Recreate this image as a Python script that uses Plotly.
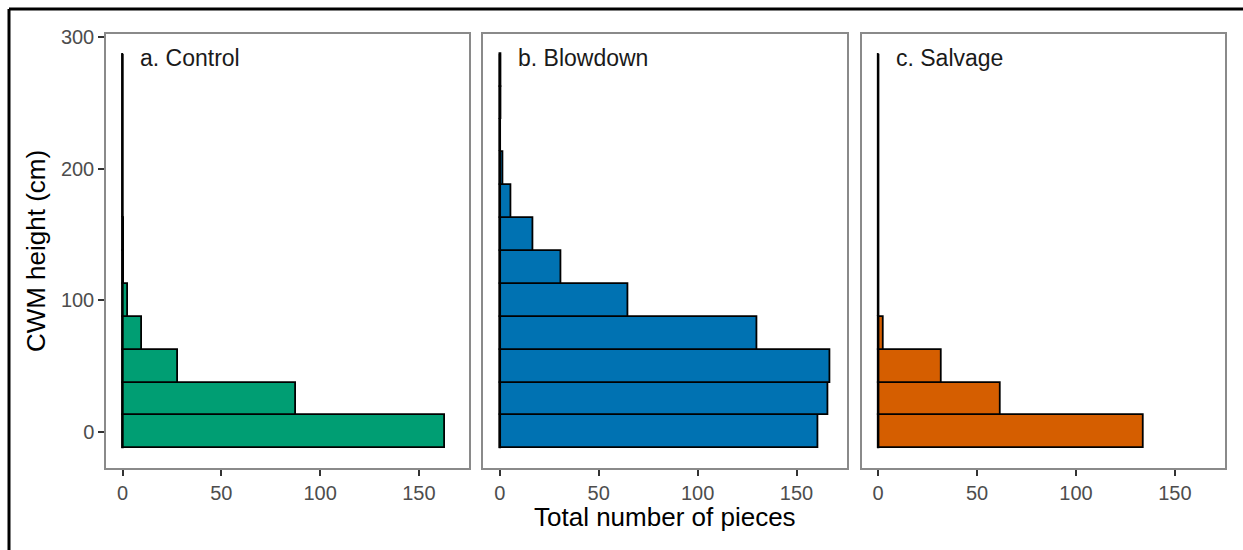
import plotly.graph_objects as go

# ---- data ----
bin_centers = [0, 25, 50, 75, 100, 125, 150, 175, 200, 225, 250, 275]
bin_width = 25
control = [163, 88, 28, 10, 3, 1, 1, 0, 0, 0, 0, 0]
blowdown = [161, 166, 167, 130, 65, 31, 17, 6, 2, 0, 1, 1]
salvage = [134, 62, 32, 3, 0, 0, 0, 0, 0, 0, 0, 0]
panel_labels = ["a. Control", "b. Blowdown", "c. Salvage"]
colors = ["#009E73", "#0072B2", "#D55E00"]
x_ticks = [0, 50, 100, 150]
y_ticks = [0, 100, 200, 300]

series = [control, blowdown, salvage]
FONT = "Liberation Sans, Arial, sans-serif"

bin_lo = bin_centers[0] - bin_width / 2
bin_hi = bin_centers[-1] + bin_width / 2
xmax = max(max(s) for s in series)
xr = [-0.05 * xmax, xmax * 1.05]
yr = [bin_lo - 0.05 * (bin_hi - bin_lo), bin_hi + 0.05 * (bin_hi - bin_lo)]

domains = [[0.0, 0.3244], [0.3372, 0.6619], [0.6753, 1.0]]

fig = go.Figure()
for i, (vals, col) in enumerate(zip(series, colors)):
    n = "" if i == 0 else str(i + 1)
    fig.add_trace(go.Bar(
        x=vals, y=bin_centers, orientation="h", width=bin_width,
        marker=dict(color=col, line=dict(color="black", width=1.8)),
        xaxis="x" + n, yaxis="y" + n, showlegend=False,
    ))
    # outline of zero-count bins (drawn as vertical line at 0)
    fig.add_trace(go.Scatter(
        x=[0, 0], y=[bin_lo, bin_hi], mode="lines",
        line=dict(color="black", width=2.4),
        xaxis="x" + n, yaxis="y" + n, showlegend=False, hoverinfo="skip",
    ))
    fig.add_annotation(
        text=panel_labels[i], x=8, y=284, xref="x" + n, yref="y" + n,
        xanchor="left", yanchor="middle", showarrow=False,
        font=dict(family=FONT, size=23, color="#1a1a1a"),
    )

axis_common = dict(
    showline=True, linecolor="#8a8a8a", linewidth=1.5, mirror=True,
    showgrid=False, zeroline=False, ticks="outside", ticklen=6,
    tickwidth=1.5, tickcolor="#333333",
    tickfont=dict(family=FONT, size=20, color="#4D4D4D"),
)

layout = dict(
    width=1243, height=550,
    margin=dict(l=106, r=18, t=34, b=82),
    paper_bgcolor="white", plot_bgcolor="white",
    bargap=0,
)
for i in range(3):
    n = "" if i == 0 else str(i + 1)
    layout["xaxis" + n] = dict(axis_common, domain=domains[i], range=xr,
                               tickvals=x_ticks, anchor="y" + n)
    ydict = dict(axis_common, range=yr, tickvals=y_ticks, anchor="x" + n)
    if i > 0:
        ydict.update(showticklabels=False, ticks="")
    layout["yaxis" + n] = ydict
fig.update_layout(**layout)
fig.update_layout(yaxis=dict(title=dict(text="CWM height (cm)",
                  font=dict(family=FONT, size=26, color="black"), standoff=8)))

fig.add_annotation(
    text="Total number of pieces", xref="paper", yref="paper",
    x=(domains[1][0] + domains[1][1]) / 2, y=-0.113,
    xanchor="center", yanchor="middle", showarrow=False,
    font=dict(family=FONT, size=26, color="black"),
)

# outer frame (top and left edges)
fig.add_shape(type="line", xref="paper", yref="paper",
              x0=(9 - 106) / 1119, x1=(1250 - 106) / 1119,
              y0=(468 - 9) / 434, y1=(468 - 9) / 434,
              line=dict(color="black", width=3))
fig.add_shape(type="line", xref="paper", yref="paper",
              x0=(9 - 106) / 1119, x1=(9 - 106) / 1119,
              y0=(468 - 9) / 434, y1=(468 - 560) / 434,
              line=dict(color="black", width=3))

fig.write_html("out.html")
